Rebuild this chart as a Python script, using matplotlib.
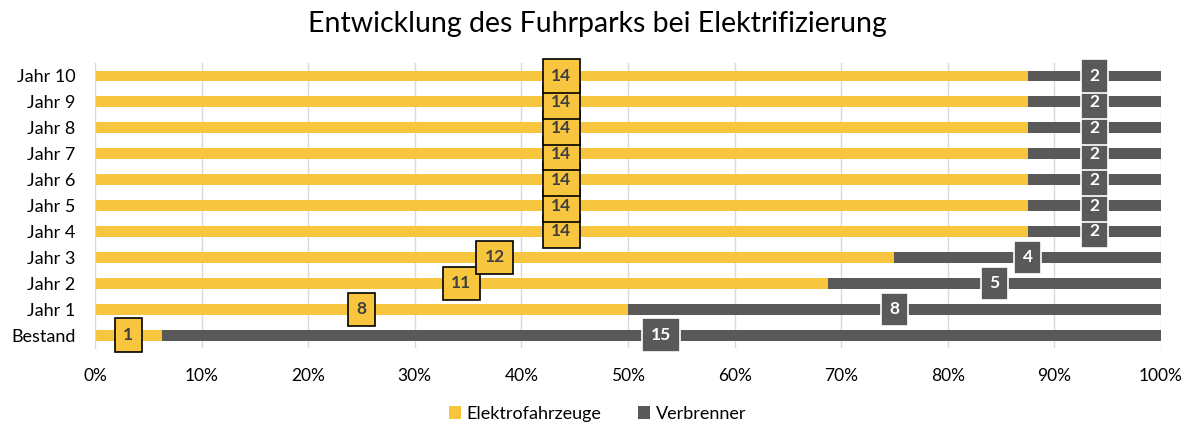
import matplotlib.pyplot as plt
import numpy as np
from matplotlib.ticker import PercentFormatter

plt.rcParams['font.family'] = ['Lato', 'DejaVu Sans']

rows = ['Bestand', 'Jahr 1', 'Jahr 2', 'Jahr 3', 'Jahr 4', 'Jahr 5',
        'Jahr 6', 'Jahr 7', 'Jahr 8', 'Jahr 9', 'Jahr 10']
elektro = np.array([1, 8, 11, 12, 14, 14, 14, 14, 14, 14, 14])
verbrenner = np.array([15, 8, 5, 4, 2, 2, 2, 2, 2, 2, 2])

yellow = '#F8C53F'
grey = '#595959'

total = elektro + verbrenner
e_pct = elektro / total * 100
v_pct = verbrenner / total * 100
y = np.arange(len(rows))

fig = plt.figure(figsize=(11.95, 4.23), dpi=100)
ax = fig.add_axes([0.0795, 0.177, 0.892, 0.674])

ax.barh(y, e_pct, height=0.42, color=yellow, label='Elektrofahrzeuge', zorder=2)
ax.barh(y, v_pct, left=e_pct, height=0.42, color=grey, label='Verbrenner', zorder=2)

for i in range(len(rows)):
    ax.text(e_pct[i] / 2, y[i], str(elektro[i]), ha='center', va='center',
            fontsize=12.5, fontweight='bold', color='#404040', zorder=4,
            bbox=dict(boxstyle='square,pad=0.5', fc=yellow, ec='black', lw=1.2))
    ax.text(e_pct[i] + v_pct[i] / 2, y[i], str(verbrenner[i]), ha='center', va='center',
            fontsize=12.5, fontweight='bold', color='white', zorder=4,
            bbox=dict(boxstyle='square,pad=0.5', fc=grey, ec='white', lw=1.2))

ax.set_xlim(0, 100)
ax.set_ylim(-0.5, len(rows) - 0.5)
ax.set_yticks(y)
ax.set_yticklabels(rows, fontsize=13)
ax.set_xticks(np.arange(0, 101, 10))
ax.xaxis.set_major_formatter(PercentFormatter(decimals=0))
ax.tick_params(axis='x', labelsize=12.5, length=0, pad=14)
ax.tick_params(axis='y', length=0, pad=14)
ax.grid(axis='x', color='#D9D9D9', lw=1, zorder=0)
for s in ['top', 'right', 'bottom']:
    ax.spines[s].set_visible(False)
ax.spines['left'].set_color('#D9D9D9')

fig.suptitle('Entwicklung des Fuhrparks bei Elektrifizierung', fontsize=20.5, y=0.975)
fig.legend(loc='lower center', ncol=2, frameon=False, fontsize=13,
           handlelength=0.7, handleheight=0.7, handletextpad=0.3,
           columnspacing=2.0, bbox_to_anchor=(0.5, -0.035))

fig.savefig('out.png', dpi=100)
